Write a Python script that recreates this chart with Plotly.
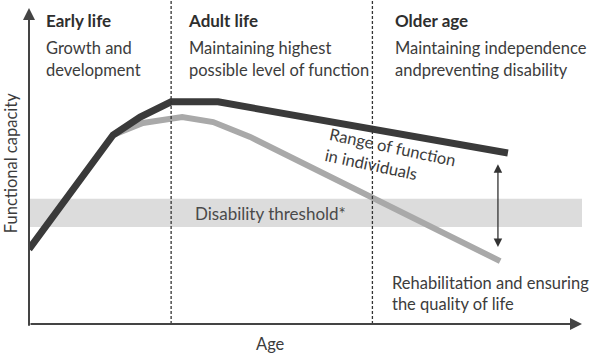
import plotly.graph_objects as go

# ---- data (age on 0-100 scale, functional capacity on 0-100 scale) ----
high_age = [0, 15.2, 20.1, 25.7, 34.2, 86.6]
high_cap = [23.7, 59.8, 65.5, 70.3, 70.3, 54.1]
low_age = [15.2, 20.6, 27.7, 33.3, 40.0, 85.2]
low_cap = [59.8, 63.6, 65.5, 63.9, 59.2, 19.9]

stage_bounds = [25.7, 62.1]
threshold_band = [30.7, 39.6]
range_arrow_age = 84.8
range_arrow_cap = [24.4, 51.0]

stage_titles = ["Early life", "Adult life", "Older age"]
stage_x = [2.8, 28.3, 65.8]
stage_lines = [["Growth and", "development"],
               ["Maintaining highest", "possible level of function"],
               ["Maintaining independence", "andpreventing disability"]]
stage_line_x = [2.8, 28.6, 65.8]

FONT = "Lato"
TXT = "#3c3c3c"

fig = go.Figure()

fig.add_shape(type="rect", xref="x", yref="y", x0=0, x1=100,
              y0=threshold_band[0], y1=threshold_band[1],
              fillcolor="#dcdcdc", line=dict(width=0), layer="below")

fig.add_trace(go.Scatter(x=low_age, y=low_cap, mode="lines",
                         line=dict(color="#a9a9a9", width=6), hoverinfo="skip"))
fig.add_trace(go.Scatter(x=high_age, y=high_cap, mode="lines",
                         line=dict(color="#3a3a3a", width=7), hoverinfo="skip"))

for b in stage_bounds:
    fig.add_shape(type="line", xref="x", yref="paper", x0=b, x1=b, y0=0, y1=1.026,
                  line=dict(color="#333333", width=1.3, dash="3px,2px"))

# axes arrows
fig.add_annotation(x=0, y=100, ax=0, ay=-1, xref="x", yref="y", axref="x", ayref="y",
                   text="", showarrow=True, arrowhead=2, arrowsize=1.2, arrowwidth=2,
                   arrowcolor="#444444", standoff=0)
fig.add_annotation(x=100, y=0, ax=0, ay=0, xref="x", yref="y", axref="x", ayref="y",
                   text="", showarrow=True, arrowhead=2, arrowsize=1.2, arrowwidth=2,
                   arrowcolor="#444444", standoff=0)
# range arrow
fig.add_annotation(x=range_arrow_age, y=range_arrow_cap[0], ax=range_arrow_age,
                   ay=range_arrow_cap[1], xref="x", yref="y", axref="x", ayref="y",
                   text="", showarrow=True, arrowhead=2, arrowside="end+start",
                   arrowsize=1.3, arrowwidth=1.3, arrowcolor="#333333", standoff=0,
                   startstandoff=0, startarrowhead=2, startarrowsize=1.3)

for t, x in zip(stage_titles, stage_x):
    fig.add_annotation(x=x, y=96.2, xref="x", yref="y", text="<b>" + t + "</b>",
                       showarrow=False, xanchor="left", yanchor="middle",
                       font=dict(family=FONT, size=17, color="#2e2e2e"))
for lines, x in zip(stage_lines, stage_line_x):
    for ln, yy in zip(lines, [87.3, 80.4]):
        fig.add_annotation(x=x, y=yy, xref="x", yref="y", text=ln,
                           showarrow=False, xanchor="left", yanchor="middle",
                           font=dict(family=FONT, size=16.5, color=TXT))

fig.add_annotation(x=43.6, y=35.1, xref="x", yref="y", text="Disability threshold*",
                   showarrow=False, font=dict(family=FONT, size=17, color="#4a4a4a"))
fig.add_annotation(x=65.3, y=52.6, xref="x", yref="y",
                   text="Range of function<br>in individuals", textangle=12,
                   align="left", showarrow=False,
                   font=dict(family=FONT, size=16.5, color=TXT))
for ln, yy in zip(["Rehabilitation and ensuring", "the quality of life"], [13.0, 6.3]):
    fig.add_annotation(x=65.3, y=yy, xref="x", yref="y", text=ln, showarrow=False,
                       xanchor="left", yanchor="middle",
                       font=dict(family=FONT, size=16.5, color=TXT))
fig.add_annotation(x=0.436, y=-0.063, xref="paper", yref="paper", text="Age",
                   xanchor="center", yanchor="middle", showarrow=False,
                   font=dict(family=FONT, size=16.5, color=TXT))
fig.add_annotation(x=-0.0325, y=0.509, xref="paper", yref="paper",
                   text="Functional capacity", textangle=-90, showarrow=False,
                   xanchor="center", yanchor="middle",
                   font=dict(family=FONT, size=16.5, color=TXT))

fig.update_layout(width=600, height=356, margin=dict(l=29, r=18, t=8, b=32),
                  paper_bgcolor="white", plot_bgcolor="white", showlegend=False,
                  hovermode=False)
fig.update_xaxes(range=[0, 100], visible=False)
fig.update_yaxes(range=[0, 100], visible=False)

# remove the browser's default body margin so the figure sits at the page origin
fig.write_html("out.html", config={"displayModeBar": False},
               post_script="document.body.style.margin='0px';document.body.style.overflow='hidden';")
